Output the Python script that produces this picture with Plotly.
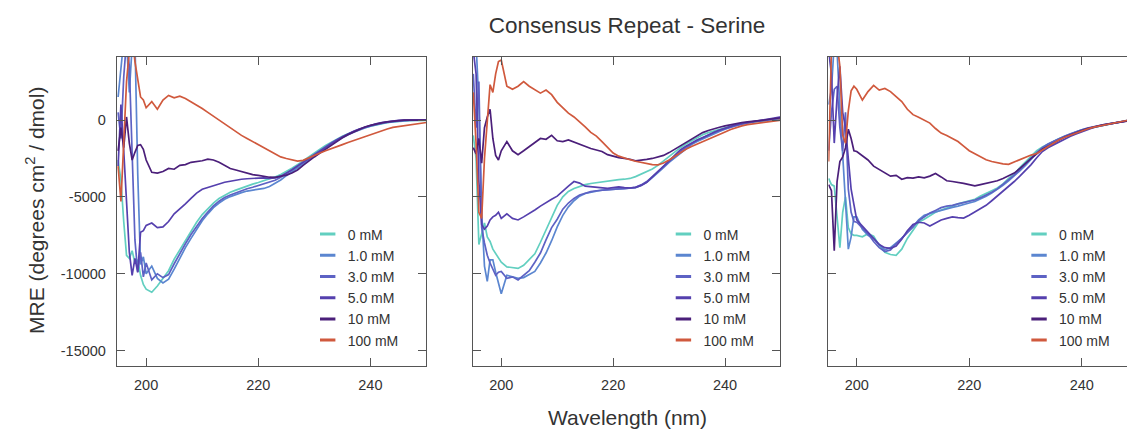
import plotly.graph_objects as go

# ---------------- data ----------------
WAVELENGTH = [195.0, 195.5, 196.0, 196.5, 197.0, 197.5, 198.0, 198.5, 199.0, 199.5, 200.0,
              201, 202, 203, 204, 205, 206, 207, 208, 209, 210,
              211, 212, 213, 214, 215, 216, 217, 218, 219, 220,
              221, 222, 223, 224, 225, 226, 227, 228, 229, 230,
              231, 232, 233, 234, 235, 236, 237, 238, 239, 240,
              241, 242, 243, 244, 245, 246, 247, 248, 249, 250]

CONCENTRATIONS = ["0 mM", "1.0 mM", "3.0 mM", "5.0 mM", "10 mM", "100 mM"]
COLORS = ["#62cfc0", "#5b86d0", "#5d62c4", "#5540ae", "#4b1f7a", "#d0593d"]

X_TICKS = [200, 220, 240]
Y_TICKS = [0, -5000, -10000, -15000]
Y_TICK_TEXT = ["0", "-5000", "-10000", "-15000"]

# Panel 1
P1_0MM = [-2600, -3900, -6600, -8800, -9000, -8500, -9300, -9100, -10100, -10700, -11000,
          -11200, -10800, -10300, -9800, -9050, -8450, -7850, -7200, -6650, -6150,
          -5750, -5400, -5100, -4880, -4700, -4560, -4420, -4300, -4170, -4060,
          -3950, -3840, -3700, -3540, -3350, -3140, -2900, -2640, -2390, -2140,
          -1900, -1660, -1450, -1250, -1060, -900, -750, -620, -500, -400,
          -310, -230, -170, -120, -80, -50, -40, -20, -10, -30]
P1_1MM = [1500, 3200, 5200, 5200, 1800, 4800, 5200, -3500, -9400, -8900, -10000,
          -9500, -10300, -10600, -10350, -9700, -8950, -8300, -7700, -7100, -6550,
          -6100, -5700, -5400, -5150, -4980, -4830, -4720, -4620, -4560, -4500,
          -4450, -4320, -4120, -3900, -3620, -3360, -3100, -2820, -2560, -2310,
          -2060, -1810, -1570, -1340, -1130, -950, -790, -640, -510, -400,
          -300, -220, -160, -110, -70, -40, -20, 0, 10, 0]
P1_3MM = [500, -1200, 2800, 5200, 3500, -3000, -7800, -9900, -8600, -10200, -9300,
          -10400, -10000, -10250, -10050, -9350, -8650, -8050, -7450, -6900, -6400,
          -5980, -5580, -5280, -5040, -4880, -4730, -4600, -4470, -4370, -4270,
          -4170, -4070, -3920, -3720, -3470, -3220, -2960, -2700, -2450, -2200,
          -1950, -1710, -1490, -1280, -1090, -910, -750, -600, -470, -370,
          -280, -200, -140, -90, -50, -20, 0, 10, 0, 0]
P1_5MM = [-3000, 1000, -2000, -5500, -8600, -10100, -9000, -9900, -7300, -7200, -6850,
          -6700, -7000, -6950, -6600, -6100, -5800, -5450, -5100, -4750, -4500,
          -4380, -4250, -4150, -4050, -3980, -3900, -3850, -3820, -3800, -3780,
          -3760, -3800, -3760, -3650, -3460, -3250, -3000, -2760, -2500, -2250,
          -2000, -1750, -1510, -1290, -1090, -900, -730, -580, -450, -340,
          -240, -160, -100, -60, -20, 0, 10, 0, 10, 0]
P1_10MM = [-2000, -500, -1800, 200, -1500, -2600, -2100, -1650, -1600, -1900, -2600,
           -3400, -3450, -3350, -3150, -3200, -2950, -2900, -2750, -2700, -2650,
           -2550, -2600, -2750, -2950, -3150, -3250, -3350, -3450, -3550, -3600,
           -3680, -3720, -3730, -3650, -3580, -3450, -3250, -2950, -2650, -2400,
           -2150, -1900, -1600, -1350, -1150, -950, -780, -600, -450, -350,
           -250, -180, -120, -80, -30, -10, 0, -20, 0, -10]
P1_100MM = [-3000, -5300, -1500, 2500, 4500, 5500, 3800, 2500, 1500, 1300, 800,
            1200, 700, 1300, 1600, 1450, 1550, 1400, 1200, 950, 750,
            500, 250, 0, -300, -550, -800, -1000, -1200, -1400, -1600,
            -1850, -2050, -2250, -2400, -2500, -2600, -2670, -2620, -2450, -2300,
            -2150, -2000, -1880, -1740, -1600, -1460, -1330, -1200, -1070, -950,
            -800, -680, -580, -480, -420, -370, -320, -250, -200, -160]

# Panel 2
P2_0MM = [-1000, -2500, -8100, -7300, -6700, -7600, -7900, -8400, -8700, -9000, -9250,
          -9550, -9600, -9650, -9450, -9100, -8700, -7950, -7150, -6300, -5550,
          -5000, -4650, -4450, -4300, -4200, -4130, -4070, -4010, -3960, -3900,
          -3880, -3850, -3800, -3680, -3530, -3380, -3180, -2950, -2650, -2350,
          -2050, -1800, -1560, -1350, -1150, -960, -820, -700, -600, -500,
          -400, -320, -250, -190, -140, -90, -50, -10, 30, 60]
P2_1MM = [4500, 5000, 1000, -6000, -9500, -10500, -9100, -9100, -9900, -10700, -11300,
          -10100, -10200, -10300, -10250, -10050, -9850, -9300, -8650, -7850, -6950,
          -6200, -5650, -5250, -4950, -4780, -4680, -4620, -4560, -4540, -4520,
          -4500, -4480, -4450, -4400, -4250, -4050, -3750, -3450, -3100, -2750,
          -2450, -2150, -1850, -1600, -1400, -1230, -1050, -880, -740, -600,
          -470, -360, -270, -190, -130, -80, -30, 20, 60, 100]
P2_3MM = [3000, -500, 2500, -7000, -8000, -8800, -9300, -9700, -10100, -9900, -9850,
          -10300, -10200, -10400, -10100, -9800, -9250, -8650, -7800, -7000, -6450,
          -5800, -5400, -5100, -4880, -4760, -4660, -4600, -4560, -4520, -4500,
          -4480, -4460, -4430, -4380, -4220, -4000, -3680, -3350, -3000, -2650,
          -2350, -2050, -1780, -1530, -1320, -1140, -970, -820, -680, -560,
          -440, -340, -250, -180, -110, -60, -20, 20, 70, 120]
P2_5MM = [4500, 3000, -4000, -6800, -7100, -6900, -6500, -6300, -6200, -6000, -6400,
          -6100, -6400, -6500, -6300, -6100, -5850, -5600, -5350, -5150, -4950,
          -4600, -4300, -4000, -4100, -4300, -4330, -4350, -4420, -4450, -4400,
          -4350, -4400, -4420, -4380, -4250, -4050, -3700, -3350, -3000, -2600,
          -2250, -1950, -1700, -1480, -1300, -1150, -950, -800, -650, -520,
          -400, -300, -220, -150, -90, -40, 20, 80, 140, 200]
P2_10MM = [-1800, -2200, -1200, -2800, -500, 200, 700, -1200, -2300, -2600, -2000,
           -1400, -2000, -2250, -2000, -1750, -1500, -1200, -1250, -1000, -1350,
           -1400, -1300, -1450, -1600, -1750, -1850, -1950, -2050, -2250, -2350,
           -2450, -2500, -2550, -2650, -2620, -2560, -2500, -2420, -2300, -2120,
           -1900, -1680, -1450, -1230, -1000, -820, -680, -560, -470, -380,
           -300, -220, -160, -120, -90, -40, 0, 50, 100, 150]
P2_100MM = [1800, -1500, -6000, -6400, -2500, 0, 2300, 1800, 3000, 3800, 3900,
            2200, 2000, 2200, 2500, 2200, 2000, 1750, 1950, 1650, 1150,
            800, 450, 200, -100, -450, -800, -1050, -1400, -1800, -2150,
            -2350, -2480, -2580, -2680, -2750, -2820, -2900, -2920, -2800, -2600,
            -2350, -2100, -1900, -1720, -1570, -1410, -1250, -1100, -950, -780,
            -620, -480, -380, -300, -240, -200, -150, -100, -50, 0]

# Panel 3
P3_0MM = [-3800, -4200, -4300, -6500, -8300, -6000, -5000, -7000, -7400, -7500, -7500,
          -7600, -7400, -7550, -8150, -8600, -8750, -8800, -8400, -7700, -7150,
          -6650, -6450, -6200, -6000, -5850, -5750, -5600, -5450, -5350, -5250,
          -5150, -4950, -4800, -4600, -4420, -4150, -3800, -3500, -3100, -2750,
          -2400, -2000, -1750, -1550, -1350, -1200, -1050, -900, -760, -640,
          -560, -480, -400, -330, -260, -190, -120, -40, 20, 60]
P3_1MM = [1000, 2000, 5000, 4500, 800, -2300, -5200, -8400, -7600, -6300, -6300,
          -7100, -7500, -7700, -8100, -8450, -8300, -8000, -7700, -7300, -6950,
          -6500, -6200, -6080, -5970, -5850, -5750, -5680, -5600, -5480, -5400,
          -5300, -5150, -4950, -4750, -4520, -4250, -3950, -3650, -3300, -2950,
          -2550, -2150, -1850, -1600, -1400, -1230, -1070, -920, -780, -650,
          -560, -470, -390, -320, -250, -180, -110, -50, 10, 50]
P3_3MM = [-2000, 500, 2000, 2200, -500, -2000, 500, -4500, -6000, -6600, -6650,
          -7000, -7400, -7900, -8300, -8550, -8450, -8050, -7700, -7300, -6950,
          -6550, -6300, -6050, -5880, -5700, -5600, -5550, -5450, -5350, -5280,
          -5200, -5050, -4880, -4700, -4480, -4200, -3880, -3580, -3250, -2900,
          -2500, -2120, -1800, -1560, -1370, -1200, -1040, -890, -750, -630,
          -530, -440, -370, -300, -230, -160, -100, -40, 20, 60]
P3_5MM = [4500, 3000, -1500, 1500, 3500, 500, -500, -2800, -4500, -5500, -6500,
          -6900, -7300, -7700, -8100, -8300, -8350, -8200, -7750, -7200, -6800,
          -6650, -6700, -6900, -6700, -6500, -6400, -6300, -6350, -6380, -6200,
          -6000, -5750, -5550, -5250, -4950, -4600, -4300, -4000, -3650, -3300,
          -2900, -2450, -2050, -1800, -1600, -1420, -1250, -1050, -900, -750,
          -620, -500, -400, -320, -250, -180, -110, -40, 20, 60]
P3_10MM = [-4200, -4600, -8500, -4000, -2700, -2400, -1800, -600, -1200, -2000, -2050,
           -2300, -2600, -3000, -3200, -3400, -3650, -3600, -3850, -3750, -3780,
           -3700, -3760, -3650, -3480, -3700, -3950, -4000, -4050, -4120, -4200,
           -4280, -4200, -4120, -4020, -3950, -3800, -3620, -3450, -3150, -2800,
           -2500, -2200, -1900, -1700, -1520, -1300, -1100, -950, -800, -680,
           -560, -450, -370, -300, -240, -170, -100, -50, 0, 40]
P3_100MM = [-2700, 4500, 5000, 5000, 3500, -1000, -1500, 600, 1900, 2200, 2000,
            1300, 1850, 2250, 1950, 2050, 1850, 1550, 1200, 700, 350,
            180, 0, -200, -550, -850, -1000, -1200, -1400, -1700, -2000,
            -2200, -2400, -2580, -2700, -2800, -2850, -2880, -2720, -2550, -2400,
            -2280, -2180, -1950, -1700, -1480, -1280, -1120, -980, -840, -700,
            -580, -480, -400, -320, -240, -170, -100, -30, 20, 60]

PANELS = [
    [P1_0MM, P1_1MM, P1_3MM, P1_5MM, P1_10MM, P1_100MM],
    [P2_0MM, P2_1MM, P2_3MM, P2_5MM, P2_10MM, P2_100MM],
    [P3_0MM, P3_1MM, P3_3MM, P3_5MM, P3_10MM, P3_100MM],
]

# ---------------- layout geometry ----------------
W, H = 1127, 433
ML, MR, MT, MB = 117, 0, 57, 67
PW = W - ML - MR
PH = H - MT - MB
DOMAINS = [[0.0, 0.3064], [0.3522, 0.6569], [0.7043, 1.0]]
X_RANGES = [[194.8, 250.0], [194.9, 249.9], [194.95, 248.05]]
Y_RANGE = [-16000, 4100]

FONT = "Liberation Sans, Arial, Helvetica, sans-serif"
TXT = "#333333"
AX = "#555555"

fig = go.Figure()
legend_names = ["legend", "legend2", "legend3"]
for p, series in enumerate(PANELS):
    xa = "x" if p == 0 else f"x{p + 1}"
    ya = "y" if p == 0 else f"y{p + 1}"
    for name, color, vals in zip(CONCENTRATIONS, COLORS, series):
        fig.add_trace(go.Scatter(
            x=WAVELENGTH, y=vals, mode="lines", name=name,
            line=dict(color=color, width=1.7),
            xaxis=xa, yaxis=ya, showlegend=False, hoverinfo="skip"))
    # legend entries (short dash symbols)
    for name, color in zip(CONCENTRATIONS, COLORS):
        fig.add_trace(go.Scatter(
            x=[None], y=[None], mode="markers", name=name,
            marker=dict(symbol="line-ew", size=11, color=color,
                        line=dict(color=color, width=3)),
            xaxis=xa, yaxis=ya, showlegend=True, legend=legend_names[p]))

axis_common = dict(showline=True, linecolor=AX, linewidth=1.3,
                   ticks="inside", ticklen=8, tickwidth=1.2, tickcolor=AX,
                   showgrid=False, zeroline=False,
                   tickfont=dict(family=FONT, size=14.5, color=TXT))

layout = dict(
    width=W, height=H,
    margin=dict(l=ML, r=MR, t=MT, b=MB, pad=0),
    paper_bgcolor="white", plot_bgcolor="white",
    font=dict(family=FONT, color=TXT),
    title=dict(text="Consensus Repeat - Serine", x=(627 - ML) / PW, xref="paper",
               xanchor="center", y=1 - 25 / H, yanchor="middle",
               font=dict(family=FONT, size=22.5, color=TXT)),
)

for p in range(3):
    sfx = "" if p == 0 else str(p + 1)
    layout["xaxis" + sfx] = dict(axis_common, domain=DOMAINS[p], range=X_RANGES[p],
                                 anchor="y" + sfx, tickvals=X_TICKS, mirror="ticks",
                                 ticklabelstandoff=5)
    layout["yaxis" + sfx] = dict(axis_common, domain=[0, 1], range=Y_RANGE,
                                 anchor="x" + sfx, tickvals=Y_TICKS, ticktext=Y_TICK_TEXT,
                                 mirror=("ticks" if p < 2 else False),
                                 showticklabels=(p == 0), ticklabelstandoff=7)
    left_px = DOMAINS[p][0] * PW
    layout[legend_names[p]] = dict(
        x=(left_px + 210.7 - 20) / PW, xanchor="left",
        y=(PH - (234.5 - MT - 16)) / PH, yanchor="top",
        bgcolor="rgba(0,0,0,0)", borderwidth=0,
        font=dict(family=FONT, size=14, color=TXT),
        tracegroupgap=0, itemclick=False, itemdoubleclick=False)

fig.update_layout(**layout)

fig.add_annotation(text="MRE (degrees cm<sup>2</sup> / dmol)", textangle=-90,
                   x=(35 - ML) / PW, y=(H - MB - 211) / PH, xref="paper", yref="paper",
                   xanchor="center", yanchor="middle", showarrow=False,
                   font=dict(family=FONT, size=21, color=TXT))
fig.add_annotation(text="Wavelength (nm)",
                   x=(627 - ML) / PW, y=-(417 - (H - MB)) / PH, xref="paper", yref="paper",
                   xanchor="center", yanchor="middle", showarrow=False,
                   font=dict(family=FONT, size=21, color=TXT))

fig.write_html("out.html", config={"displayModeBar": False},
               post_script="document.body.style.margin='0';document.body.style.overflow='hidden';")
